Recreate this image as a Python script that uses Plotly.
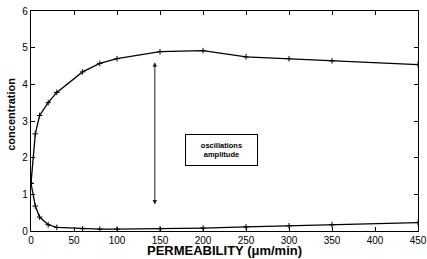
import plotly.graph_objects as go

permeability = [0, 5, 10, 20, 30, 60, 80, 100, 150, 200, 250, 300, 350, 450]
upper_conc = [1.3, 2.65, 3.15, 3.5, 3.78, 4.34, 4.57, 4.70, 4.89, 4.92, 4.75, 4.70, 4.64, 4.54]
lower_conc = [1.3, 0.68, 0.38, 0.17, 0.10, 0.06, 0.05, 0.05, 0.06, 0.08, 0.11, 0.14, 0.17, 0.23]

x_ticks = list(range(0, 451, 50))
y_ticks = list(range(0, 7))

fig = go.Figure()
for ys in (upper_conc, lower_conc):
    fig.add_trace(go.Scatter(
        x=permeability, y=ys, mode="lines+markers",
        line=dict(color="black", width=1.3),
        marker=dict(symbol="cross-thin", size=4, line=dict(color="black", width=1)),
        showlegend=False,
    ))

axis_common = dict(
    showgrid=False, zeroline=False, showline=True, linecolor="black", linewidth=1.3,
    mirror="ticks", ticks="inside", ticklen=4, tickcolor="black", tickwidth=1,
    automargin=False,
    tickfont=dict(family="Liberation Sans, Arial", size=10, color="black"),
)
fig.update_xaxes(range=[0, 450], tickvals=x_ticks, **axis_common)
fig.update_yaxes(range=[0, 6], tickvals=y_ticks, **axis_common)

fig.add_annotation(x=144, y=4.6, ax=144, ay=0.68, xref="x", yref="y", axref="x", ayref="y",
                   showarrow=True, arrowhead=2, startarrowhead=2, arrowside="end+start",
                   arrowsize=0.9, arrowwidth=1, arrowcolor="#222222", text="")
fig.add_annotation(x=222, y=2.2, xref="x", yref="y", showarrow=False,
                   text="<b>oscillations<br>amplitude</b>",
                   font=dict(family="Liberation Sans, Arial", size=7.5, color="black"),
                   bordercolor="black", borderwidth=1, width=69, height=28, align="center",
                   bgcolor="white")
fig.add_annotation(x=0.5, y=-0.125, xref="paper", yref="paper", showarrow=False,
                   xanchor="center", yanchor="bottom", borderpad=0,
                   text="<b>PERMEABILITY (μm/min)</b>",
                   font=dict(family="Liberation Sans, Arial", size=13, color="black"))
fig.add_annotation(x=-0.03, y=0.53, xref="paper", yref="paper", showarrow=False,
                   xanchor="right", yanchor="middle", textangle=-90,
                   text="<b>concentration</b>",
                   font=dict(family="Liberation Sans, Arial", size=11, color="black"))

fig.update_layout(
    width=427, height=259,
    margin=dict(l=31, r=9, t=11, b=28),
    paper_bgcolor="white", plot_bgcolor="white",
)
fig.write_html("out.html", config={"displayModeBar": False},
               post_script="document.body.style.margin='0';document.body.style.overflow='hidden';")
